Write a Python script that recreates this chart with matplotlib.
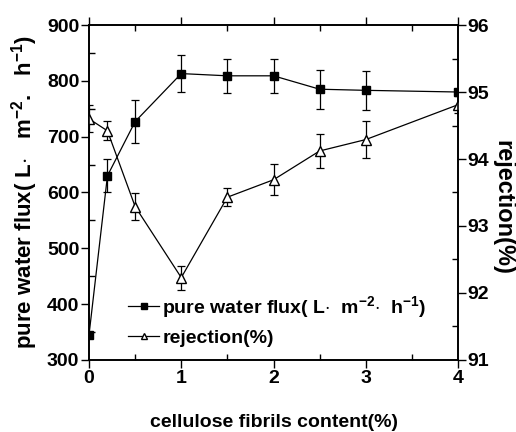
import matplotlib
matplotlib.use("Agg")
import matplotlib.pyplot as plt
from matplotlib.ticker import MultipleLocator
from matplotlib.lines import Line2D

plt.rcParams['font.family'] = ['Liberation Sans']
plt.rcParams['font.weight'] = 'bold'
plt.rcParams['mathtext.fontset'] = 'custom'
plt.rcParams['mathtext.rm'] = 'Liberation Sans:bold'
plt.rcParams['mathtext.bf'] = 'Liberation Sans:bold'
plt.rcParams['mathtext.default'] = 'rm'

# cellulose fibrils content (%)
content = [0, 0.2, 0.5, 1, 1.5, 2, 2.5, 3, 4]
# pure water flux, L m-2 h-1
flux = [345, 630, 727, 813, 809, 809, 785, 783, 780]
flux_err = [0, 30, 39, 33, 30, 30, 35, 35, 0]
# rejection (%)
rejection = [94.60, 94.42, 93.29, 92.23, 93.43, 93.69, 94.12, 94.29, 94.81]
rej_err = [0.2, 0.14, 0.2, 0.18, 0.13, 0.23, 0.25, 0.28, 0.13]

fs = 14
fig = plt.figure(figsize=(5.16, 4.32), dpi=100)
ax = fig.add_axes([0.1725, 0.1667, 0.7151, 0.7754])
ax2 = ax.twinx()

ax.errorbar(content, flux, yerr=flux_err, color='black', marker='s',
            markersize=5.5, lw=0.9, elinewidth=0.9, capsize=3, capthick=0.9)
ax2.errorbar(content, rejection, yerr=rej_err, color='black', marker='^',
             markerfacecolor='white', markersize=7, lw=0.9, elinewidth=0.9,
             capsize=3, capthick=0.9)

ax.set_xlim(0, 4)
ax.set_ylim(300, 900)
ax2.set_ylim(91, 96)

ax.xaxis.set_major_locator(MultipleLocator(1))
ax.xaxis.set_minor_locator(MultipleLocator(0.5))
ax.yaxis.set_major_locator(MultipleLocator(100))
ax.yaxis.set_minor_locator(MultipleLocator(50))
ax2.yaxis.set_major_locator(MultipleLocator(1))
ax2.yaxis.set_minor_locator(MultipleLocator(0.5))

ax.tick_params(axis='both', which='major', direction='out', length=6, width=1,
               labelsize=fs, pad=1)
ax.tick_params(axis='both', which='minor', direction='in', length=4, width=1)
ax.tick_params(axis='x', top=True, which='both')
ax2.tick_params(axis='y', which='major', direction='out', length=6, width=1,
                labelsize=fs, pad=1)
ax2.tick_params(axis='y', which='minor', direction='in', length=4, width=1)
for t in ax.get_xticklabels() + ax.get_yticklabels() + ax2.get_yticklabels():
    t.set_fontweight('bold')

for a in (ax, ax2):
    for s in a.spines.values():
        s.set_linewidth(1.2)

ax.set_xlabel('cellulose fibrils content(%)', fontsize=fs, fontweight='bold', labelpad=20)
ax.set_ylabel(r'pure water flux( L$\cdot$   m$^{-2}$.   h$^{-1}$)', fontsize=16,
              fontweight='bold', labelpad=5)
ax2.set_ylabel('rejection(%)', fontsize=17, fontweight='bold', rotation=270,
               va='center', ha='center')
ax2.yaxis.set_label_coords(1.122, 0.454)

# legend handles without the error bars
h1 = Line2D([], [], color='black', lw=0.9, marker='s', markersize=4)
h2 = Line2D([], [], color='black', lw=0.9, marker='^', markersize=5,
            markerfacecolor='white')
leg = ax.legend([h1, h2],
                [r'pure water flux( L$\cdot$  m$^{-2}$$\cdot$  h$^{-1}$)', 'rejection(%)'],
                loc='lower left', bbox_to_anchor=(0.08, 0.01), frameon=False,
                fontsize=fs, handlelength=1.6, handletextpad=0.15,
                labelspacing=0.5, borderaxespad=0.1)
leg.set_zorder(5)

fig.savefig('out.png', dpi=100)
